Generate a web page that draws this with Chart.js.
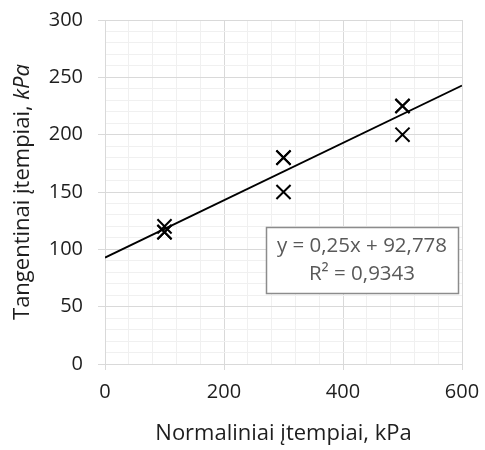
<!DOCTYPE html>
<html><head><meta charset="utf-8">
<script src="https://cdn.jsdelivr.net/npm/chart.js@4.4.1/dist/chart.umd.min.js"></script>
<style>html,body{margin:0;padding:0;background:#fff}#wrap{width:485px;height:450px}</style>
</head><body><div id="wrap"><canvas id="c" width="485" height="450"></canvas></div>
<script>
// ---- data ----
const normalStress = [100, 100, 100, 300, 300, 300, 500, 500, 500];
const shearStress  = [120, 115, 115, 180, 150, 180, 225, 200, 225];
const xTitle = 'Normaliniai įtempiai, kPa';
const yTitleMain = 'Tangentinai įtempiai, ';
const yTitleUnit = 'kPa';
const xRange = [0, 600];
const yRange = [0, 300];
const xMajor = 200, xMinor = 40;
const yMajor = 50, yMinor = 10;

// ---- regression (linear trendline, as in the spreadsheet) ----
const n = normalStress.length;
const mx = normalStress.reduce((a, b) => a + b, 0) / n;
const my = shearStress.reduce((a, b) => a + b, 0) / n;
let sxy = 0, sxx = 0, syy = 0;
for (let i = 0; i < n; i++) {
  sxy += (normalStress[i] - mx) * (shearStress[i] - my);
  sxx += (normalStress[i] - mx) ** 2;
  syy += (shearStress[i] - my) ** 2;
}
const slope = sxy / sxx;
const intercept = my - slope * mx;
const r2 = (sxy * sxy) / (sxx * syy);
const fmt = (v, p) => String(parseFloat(v.toPrecision(p))).replace('.', ',');
const eqLines = ['y = ' + fmt(slope, 5) + 'x + ' + fmt(intercept, 5), 'R² = ' + fmt(r2, 4)];

const FONT = '"Open Sans"';
const TXT = '#1e1e1e';
const MAJ = '#d9d9d9', MIN = '#f0f0f0';

const overlay = {
  id: 'overlay',
  afterDatasetsDraw(chart) {
    const ctx = chart.ctx, ca = chart.chartArea;
    ctx.save();
    const bx = ca.left + 161, by = ca.top + 207, bw = 192, bh = 66;
    ctx.fillStyle = '#fff';
    ctx.fillRect(bx, by, bw, bh);
    ctx.strokeStyle = '#8c8c8c';
    ctx.lineWidth = 1.5;
    ctx.strokeRect(bx + 0.5, by + 0.5, bw, bh);
    ctx.fillStyle = '#595959';
    ctx.font = '20.5px ' + FONT;
    ctx.textAlign = 'center';
    ctx.textBaseline = 'middle';
    ctx.fillText(eqLines[0], bx + bw / 2, by + 19);
    ctx.fillText(eqLines[1], bx + bw / 2, by + 47);
    ctx.restore();
  },
  afterDraw(chart) {
    const ctx = chart.ctx, ca = chart.chartArea;
    ctx.save();
    ctx.translate(23, (ca.top + ca.bottom) / 2);
    ctx.rotate(-Math.PI / 2);
    ctx.fillStyle = TXT;
    ctx.textBaseline = 'middle';
    ctx.textAlign = 'left';
    const fN = '22px ' + FONT, fI = 'italic 22px ' + FONT;
    ctx.font = fN; const w1 = ctx.measureText(yTitleMain).width;
    ctx.font = fI; const w2 = ctx.measureText(yTitleUnit).width;
    const start = -(w1 + w2) / 2;
    ctx.font = fN; ctx.fillText(yTitleMain, start, 0);
    ctx.font = fI; ctx.fillText(yTitleUnit, start + w1, 0);
    ctx.restore();
  }
};

function build() {
  new Chart(document.getElementById('c'), {
    type: 'scatter',
    data: {
      datasets: [
        {
          type: 'scatter',
          data: normalStress.map((x, i) => ({ x, y: shearStress[i] })),
          pointStyle: 'crossRot',
          pointRadius: 10,
          borderColor: '#000',
          backgroundColor: '#000',
          borderWidth: 2,
          order: 1
        },
        {
          type: 'line',
          data: xRange.map(x => ({ x, y: intercept + slope * x })),
          borderColor: '#000',
          borderWidth: 1.8,
          pointRadius: 0,
          fill: false,
          tension: 0,
          order: 2
        }
      ]
    },
    options: {
      responsive: false,
      animation: false,
      layout: { padding: { left: 0, right: 23, top: 20, bottom: 0 } },
      plugins: { legend: { display: false }, tooltip: { enabled: false } },
      scales: {
        x: {
          type: 'linear', min: xRange[0], max: xRange[1],
          afterFit(s) { s.height = 86; s.paddingLeft = 0; s.paddingRight = 0; },
          border: { color: MAJ, width: 1 },
          grid: {
            color: c => (c.tick && c.tick.value % xMajor === 0) ? MAJ : MIN,
            tickColor: c => (c.tick && c.tick.value % xMajor === 0) ? MAJ : 'rgba(0,0,0,0)',
            tickLength: 6
          },
          ticks: {
            stepSize: xMinor, autoSkip: false, maxRotation: 0, padding: 10,
            color: TXT, font: { family: FONT, size: 20 },
            callback: v => (v % xMajor === 0 ? String(v) : '')
          },
          title: { display: true, text: xTitle, color: TXT, font: { family: FONT, size: 22 }, padding: { top: 0, bottom: 3 } }
        },
        y: {
          type: 'linear', min: yRange[0], max: yRange[1],
          afterFit(s) { s.width = 105; s.paddingTop = 0; s.paddingBottom = 0; },
          border: { color: MAJ, width: 1 },
          grid: {
            color: c => (c.tick && c.tick.value % yMajor === 0) ? MAJ : MIN,
            tickColor: c => (c.tick && c.tick.value % yMajor === 0) ? MAJ : 'rgba(0,0,0,0)',
            tickLength: 7
          },
          ticks: {
            stepSize: yMinor, autoSkip: false, padding: 15,
            color: TXT, font: { family: FONT, size: 20 },
            callback: v => (v % yMajor === 0 ? String(v) : '')
          }
        }
      }
    },
    plugins: [overlay]
  });
}
if (document.fonts && document.fonts.load) {
  Promise.all([document.fonts.load('20px "Open Sans"'), document.fonts.load('italic 22px "Open Sans"')]).then(build, build);
} else build();
</script></body></html>
